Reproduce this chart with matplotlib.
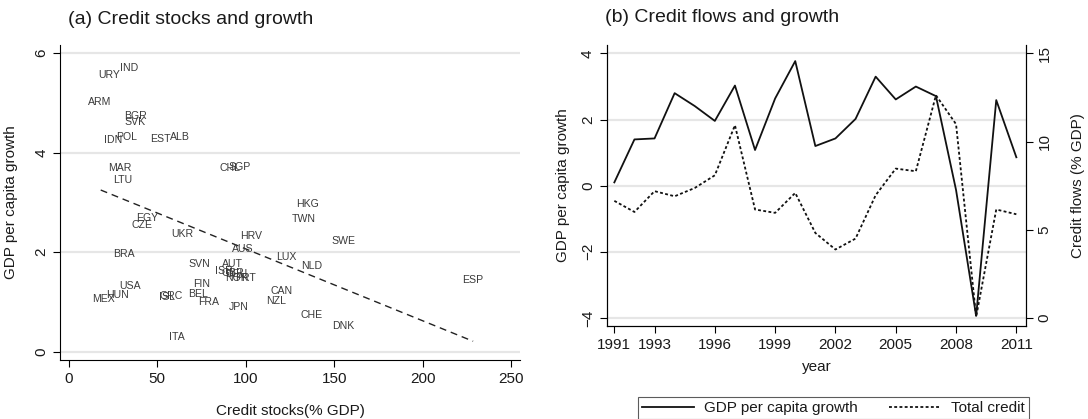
import matplotlib
matplotlib.use("Agg")
import matplotlib.pyplot as plt
from matplotlib.lines import Line2D

plt.rcParams['font.family'] = ['Liberation Sans', 'DejaVu Sans']

# ---------------- Panel (a) data ----------------
countries = ["URY", "IND", "ARM", "BGR", "SVK", "IDN", "POL", "EST", "ALB",
             "MAR", "LTU", "CHL", "SGP", "EGY", "CZE", "UKR", "HRV", "AUS",
             "BRA", "SVN", "AUT", "ISR", "GBR", "DEU", "NOR", "PRT", "FIN",
             "USA", "HUN", "MEX", "GRC", "ISL", "BEL", "FRA", "JPN", "ITA",
             "HKG", "TWN", "SWE", "LUX", "NLD", "ESP", "CAN", "NZL", "CHE", "DNK"]
credit_stock = [22.9, 34.1, 17.7, 37.5, 37.5, 25.2, 32.8, 51.6, 63.0,
                29.0, 30.8, 91.1, 96.8, 44.1, 41.6, 64.2, 103.0, 98.6,
                31.4, 73.8, 92.7, 87.9, 93.0, 94.9, 94.9, 100.0, 75.1,
                34.6, 27.5, 19.8, 57.8, 55.7, 72.9, 79.3, 96.2, 61.0,
                134.8, 132.9, 155.1, 123.2, 137.3, 228.0, 120.5, 117.1, 137.5, 155.1]
gdp_growth_a = [5.56, 5.70, 5.01, 4.74, 4.62, 4.26, 4.31, 4.28, 4.31,
                3.70, 3.45, 3.69, 3.72, 2.68, 2.55, 2.37, 2.33, 2.06,
                1.96, 1.76, 1.76, 1.63, 1.58, 1.56, 1.49, 1.49, 1.37,
                1.33, 1.13, 1.06, 1.12, 1.09, 1.15, 0.99, 0.89, 0.30,
                2.96, 2.67, 2.23, 1.91, 1.72, 1.44, 1.22, 1.02, 0.74, 0.52]
fit_x = [18.1, 228.5]
fit_y = [3.25, 0.21]

# ---------------- Panel (b) data ----------------
years = list(range(1991, 2012))
gdp_growth_b = [0.10, 1.40, 1.43, 2.80, 2.41, 1.96, 3.03, 1.08, 2.64, 3.77,
                1.20, 1.43, 2.02, 3.30, 2.61, 3.00, 2.71, -0.13, -3.94, 2.59, 0.86]
credit_flow = [6.64, 6.01, 7.19, 6.90, 7.37, 8.09, 10.93, 6.15, 5.96, 7.09,
               4.82, 3.88, 4.50, 6.96, 8.47, 8.32, 12.63, 10.99, 0.06, 6.15, 5.88]
year_ticks = [1991, 1993, 1996, 1999, 2002, 2005, 2008, 2011]

W, H = 1088, 419
fig = plt.figure(figsize=(W / 100, H / 100), dpi=100)

GRID = '#e6e6e6'
TXT = '#1a1a1a'

def fx(px):
    return px / W

def fy(py):
    return 1 - py / H

# ---- Panel (a) ----
ax1 = fig.add_axes([fx(60), fy(360), fx(520) - fx(60), fy(45) - fy(360)])
for c, xv, yv in zip(countries, credit_stock, gdp_growth_a):
    ax1.text(xv, yv, c, ha='center', va='center', fontsize=7.6, color='#3a3a3a')
ax1.plot(fit_x, fit_y, color='#222222', lw=1.0, linestyle=(0, (5, 3.5)))
ax1.set_xlim(-4.9, 255.0)
ax1.set_ylim(-0.167, 6.165)
ax1.set_xticks([0, 50, 100, 150, 200, 250])
ax1.set_yticks([0, 2, 4, 6])
for yv in [0, 2, 4, 6]:
    ax1.axhline(yv, color=GRID, lw=1.6, zorder=0)
ax1.spines['top'].set_visible(False)
ax1.spines['right'].set_visible(False)
ax1.tick_params(direction='out', length=5, width=0.8, labelsize=11, colors='black', labelcolor=TXT)
for lab in ax1.get_yticklabels():
    lab.set_rotation(90)
    lab.set_va('center')
ax1.set_xlabel('Credit stocks(% GDP)', fontsize=11, color=TXT, labelpad=13)
ax1.set_ylabel('GDP per capita growth', fontsize=11, color=TXT, labelpad=12)
fig.text(fx(68), fy(20), '(a) Credit stocks and growth', fontsize=14, color=TXT, va='center', ha='left')

# ---- Panel (b) ----
ax2 = fig.add_axes([fx(606.7), fy(326), fx(1026) - fx(606.7), fy(45) - fy(326)])
ax2.plot(years, gdp_growth_b, color='#111111', lw=1.3, linestyle='-')
ax2.set_xlim(1990.62, 2011.48)
ax2.set_ylim(-4.245, 4.257)
ax2.set_yticks([-4, -2, 0, 2, 4])
ax2.set_yticklabels(['\u22124', '\u22122', '0', '2', '4'])
ax2.set_xticks(year_ticks)
for yv in [-4, -2, 0, 2, 4]:
    ax2.axhline(yv, color=GRID, lw=1.6, zorder=0)
ax2.spines['top'].set_visible(False)
ax2.tick_params(direction='out', length=5, width=0.8, labelsize=11, colors='black', labelcolor=TXT)
for lab in ax2.get_yticklabels():
    lab.set_rotation(90)
    lab.set_va('center')
ax2.set_xlabel('year', fontsize=11, color=TXT, labelpad=6)
ax2.set_ylabel('GDP per capita growth', fontsize=11, color=TXT, labelpad=8)

ax3 = ax2.twinx()
ax3.plot(years, credit_flow, color='#111111', lw=1.3, linestyle=(0, (1.6, 1.3)))
lo, hi = ax2.get_ylim()
ax3.set_ylim((lo + 4) * 15 / 8, (hi + 4) * 15 / 8)
ax3.set_yticks([0, 5, 10, 15])
ax3.spines['top'].set_visible(False)
ax3.tick_params(direction='out', length=5, width=0.8, labelsize=11, colors='black', labelcolor=TXT)
for lab in ax3.get_yticklabels():
    lab.set_rotation(90)
    lab.set_va('center')
ax3.set_ylabel('Credit flows (% GDP)', fontsize=11, color=TXT, labelpad=14)
fig.text(fx(605), fy(17), '(b) Credit flows and growth', fontsize=14, color=TXT, va='center', ha='left')

handles = [Line2D([], [], color='#111111', lw=1.3, linestyle='-'),
           Line2D([], [], color='#111111', lw=1.3, linestyle=(0, (1.6, 1.3)))]
leg = fig.legend(handles, ['GDP per capita growth', 'Total credit'], loc='center',
                 bbox_to_anchor=(fx((640 + 1026.7) / 2), fy(408)), ncol=2, fontsize=11,
                 frameon=True, fancybox=False, edgecolor='#333333', handlelength=3.4,
                 borderpad=0.25, columnspacing=2.0, handletextpad=0.7)
leg.get_frame().set_linewidth(0.8)
for t in leg.get_texts():
    t.set_color(TXT)

fig.savefig('out.png', dpi=100)
